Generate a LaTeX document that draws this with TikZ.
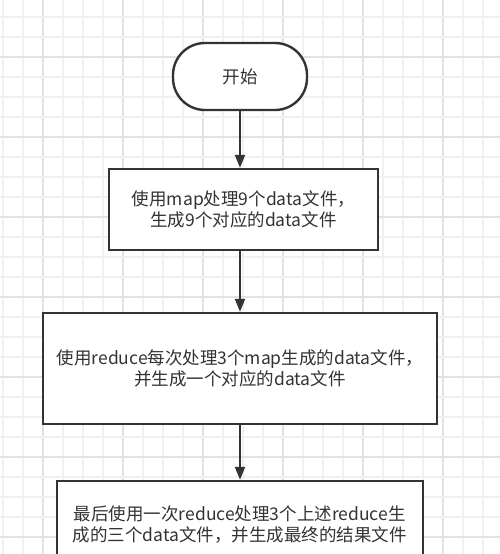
\documentclass[tikz,border=0pt]{standalone}
\usepackage{fontspec}
\setmainfont{Noto Sans CJK SC}
\usepackage{xcolor}
\usepackage{tikz}
\usetikzlibrary{arrows.meta}

\definecolor{gridlight}{HTML}{F0F0F0}
\definecolor{gridheavy}{HTML}{E2E2E2}
\definecolor{inkgray}{HTML}{333333}

\begin{document}
\begin{tikzpicture}[x=1pt,y=-1pt,
    terminal/.style={draw=inkgray,line width=2.4pt,fill=white,rounded corners=32pt,
        minimum width=134pt,minimum height=67pt,text=inkgray,font=\fontsize{17.5}{21}\selectfont},
    process/.style={draw=inkgray,line width=2.4pt,fill=white,align=center,
        text=inkgray,font=\fontsize{17.5}{21}\selectfont},
    flow/.style={draw=inkgray,line width=2pt,-{Triangle[length=13pt,width=10pt]}}]
    \useasboundingbox (0,0) rectangle (500,554);
    \clip (0,0) rectangle (500,554);
    \fill[white] (0,0) rectangle (500,554);
    % background grid
    \foreach \k in {0,...,24}{
        \pgfmathsetmacro{\gx}{3+20*\k}
        \pgfmathtruncatemacro{\rem}{mod(\k+2,4)}
        \ifnum\rem=0
            \draw[gridheavy,line width=1.6pt] (\gx,0) -- (\gx,554);
        \else
            \draw[gridlight,line width=1.3pt] (\gx,0) -- (\gx,554);
        \fi
    }
    \foreach \k in {0,...,26}{
        \pgfmathsetmacro{\gy}{17+20*\k}
        \pgfmathtruncatemacro{\rem}{mod(\k+2,4)}
        \ifnum\rem=0
            \draw[gridheavy,line width=1.6pt] (0,\gy) -- (500,\gy);
        \else
            \draw[gridlight,line width=1.3pt] (0,\gy) -- (500,\gy);
        \fi
    }
    % flowchart
    \node[terminal] (start) at (240,76.5) {开始};
    \node[process,minimum width=269pt,minimum height=81pt] (mapstep) at (243.5,209.5)
        {使用map处理9个data文件，\\生成9个对应的data文件};
    \node[process,minimum width=394pt,minimum height=111pt] (reducestep) at (240,368.5)
        {使用reduce每次处理3个map生成的data文件，\\并生成一个对应的data文件};
    \node[process,minimum width=366pt,minimum height=88pt] (finalstep) at (239.7,525)
        {最后使用一次reduce处理3个上述reduce生\\成的三个data文件，并生成最终的结果文件};
    \draw[flow] (start.south) -- (start.south |- mapstep.north);
    \draw[flow] (start.south |- mapstep.south) -- (start.south |- reducestep.north);
    \draw[flow] (start.south |- reducestep.south) -- (start.south |- finalstep.north);
\end{tikzpicture}
\end{document}
